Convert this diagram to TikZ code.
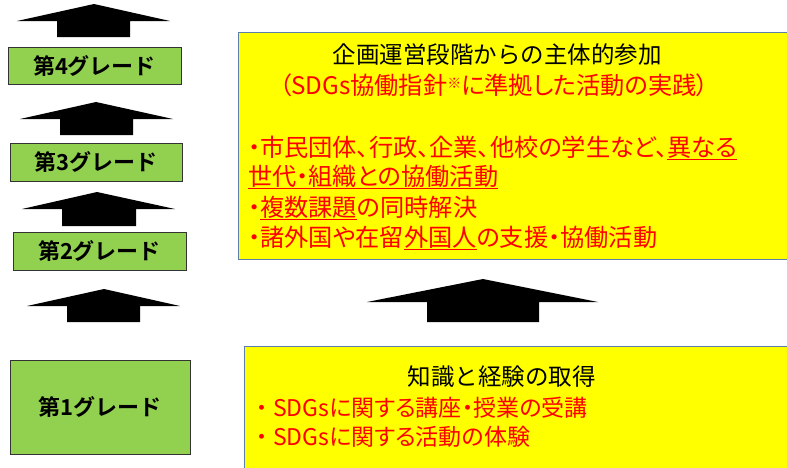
\documentclass[tikz,border=0pt]{standalone}
\usepackage{fontspec}
\setmainfont{Noto Sans CJK JP}[RawFeature=+palt]
\newfontfamily\fulljp{Noto Sans CJK JP}
\newfontfamily\boldjp{Noto Sans CJK JP Bold}
\definecolor{gfill}{HTML}{92D050}
\definecolor{yfill}{HTML}{FFFF00}
\definecolor{bluebd}{HTML}{5B7FA8}
\definecolor{redtxt}{HTML}{FF0000}
\newcommand\myul[1]{\setbox0\hbox{#1}\rlap{\rule[-4pt]{\wd0}{1.6pt}}\box0}
\tikzset{
  grade/.style={draw=black!80,line width=0.8pt,fill=gfill,minimum width=#1,inner sep=0pt,
     font=\boldjp\fontsize{22}{24}\selectfont},
  ybox/.style={draw=bluebd,line width=1.2pt,fill=yfill,anchor=north west,inner sep=0pt},
  head/.style={font=\fulljp\fontsize{23.5}{26}\selectfont,inner sep=0pt},
  redline/.style={font=\fontsize{24.2}{26}\selectfont,text=redtxt,inner sep=0pt,anchor=west},
  redlow/.style={font=\fontsize{23}{26}\selectfont,text=redtxt,inner sep=0pt,anchor=west},
  uparrow/.style={fill=black}
}
\begin{document}
\begin{tikzpicture}[x=1pt,y=-1pt]
\useasboundingbox (0,0) rectangle (787,467);
% left grade boxes
\node[grade=173pt,minimum height=37pt] (g4) at (94.5,65.5) {第4グレード};
\node[grade=172pt,minimum height=38pt] (g3) at (96,162) {第3グレード};
\node[grade=173pt,minimum height=38pt] (g2) at (99.5,251) {第2グレード};
\node[grade=180pt,minimum height=94pt] (g1) at (100,407) {第1グレード};
% left arrows
\fill[uparrow] (94,4) -- (170,21) -- (130,21) -- (130,37) -- (57,37) -- (57,21) -- (17,21) -- cycle;
\fill[uparrow] (96,102) -- (173,119) -- (133,119) -- (133,135) -- (60,135) -- (60,119) -- (20,119) -- cycle;
\fill[uparrow] (97,192) -- (175,209) -- (136,209) -- (136,226) -- (62,226) -- (62,209) -- (22,209) -- cycle;
\fill[uparrow] (104,289) -- (180,306) -- (140,306) -- (140,322) -- (67,322) -- (67,306) -- (27,306) -- cycle;
% right arrow
\fill[uparrow] (483,279) -- (598,302) -- (539,302) -- (539,322) -- (427,322) -- (427,302) -- (367,302) -- cycle;
% top yellow box
\node[ybox,minimum width=570pt,minimum height=227pt] (top) at (237.5,32) {};
\node[head] (t1) at (497,55) {企画運営段階からの主体的参加};
\node[redline,anchor=center] (t2) at (494,85) {（SDGs協働指針\raisebox{6pt}{\fontsize{14}{15}\selectfont ※}に準拠した活動の実践）};
\node[redline] (t3) at (248,148) {・市民団体、行政、企業、他校の学生など、\myul{異なる}};
\node[redline] (t4) at (248,177) {\myul{世代・組織との協働活動}};
\node[redline] (t5) at (248,208) {・\myul{複数課題}の同時解決};
\node[redline] (t6) at (248,238) {・諸外国や在留\myul{外国人}の支援・協働活動};
% bottom yellow box
\node[ybox,minimum width=560pt,minimum height=140pt] (bot) at (244,345.5) {};
\node[head] (b1) at (501.5,377) {知識と経験の取得};
\node[redlow] (b2) at (250,408) {{\fulljp ・}SDGsに関する講座・授業の受講};
\node[redlow] (b3) at (250,437) {{\fulljp ・}SDGsに関する活動の体験};
\end{tikzpicture}
\end{document}
